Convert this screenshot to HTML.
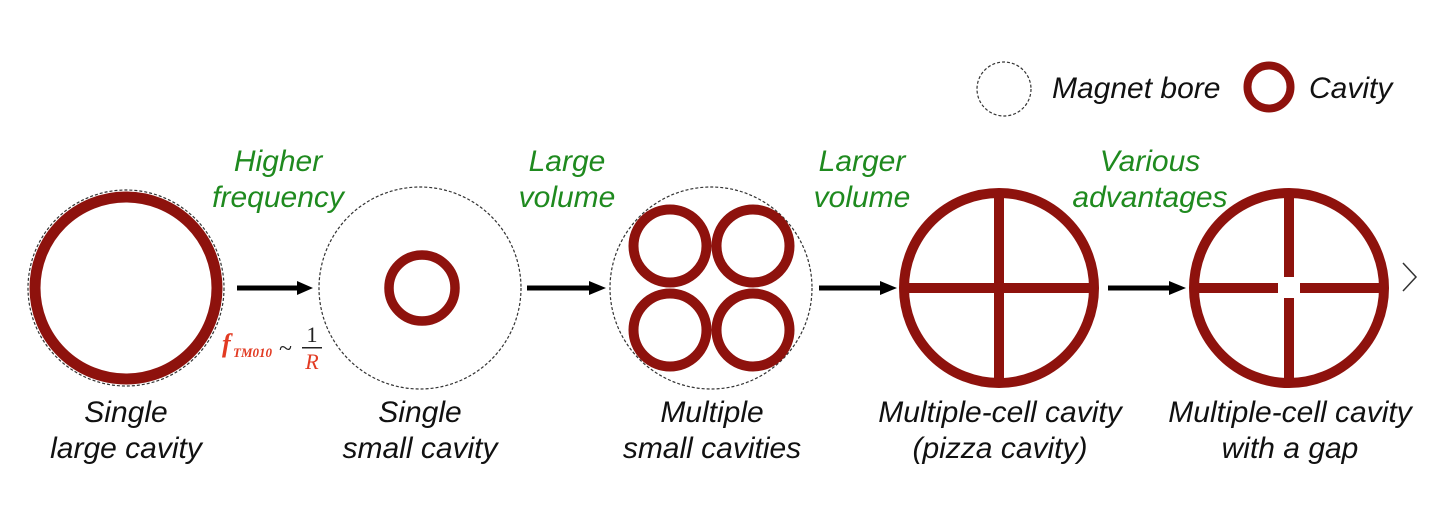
<!DOCTYPE html>
<html><head><meta charset="utf-8"><style>
html,body{margin:0;padding:0;background:#fff;}
svg{display:block;}
text{font-family:"Liberation Sans",Arial,sans-serif;font-style:italic;font-size:30px;}
.g{fill:#1f8a1f;}
.k{fill:#111;}
</style></head><body>
<svg width="1440" height="517" viewBox="0 0 1440 517" xmlns="http://www.w3.org/2000/svg">
<g fill="none" stroke="#333" stroke-width="1.2" stroke-dasharray="3,2">
<circle cx="1004" cy="89" r="27"/>
<circle cx="126" cy="288" r="98"/>
<circle cx="420" cy="288" r="101"/>
<circle cx="711" cy="288" r="101"/>
</g>
<g fill="none" stroke="#8e120d">
<circle cx="1269" cy="87" r="21.5" stroke-width="8"/>
<circle cx="126" cy="288" r="91" stroke-width="11"/>
<circle cx="422" cy="288" r="33" stroke-width="9.5"/>
<circle cx="670" cy="246" r="36.5" stroke-width="10"/>
<circle cx="753" cy="246" r="36.5" stroke-width="10"/>
<circle cx="670" cy="330" r="36.5" stroke-width="10"/>
<circle cx="753" cy="330" r="36.5" stroke-width="10"/>
<circle cx="999" cy="288" r="95" stroke-width="10"/>
<line x1="999" y1="190" x2="999" y2="386" stroke-width="10"/>
<line x1="901" y1="288" x2="1097" y2="288" stroke-width="10"/>
<circle cx="1289" cy="288" r="95" stroke-width="10"/>
<line x1="1289" y1="190" x2="1289" y2="277" stroke-width="10"/>
<line x1="1289" y1="298" x2="1289" y2="386" stroke-width="10"/>
<line x1="1191" y1="288" x2="1278" y2="288" stroke-width="10"/>
<line x1="1300" y1="288" x2="1387" y2="288" stroke-width="10"/>
</g>
<g fill="#000">
<rect x="237" y="285.5" width="62" height="5"/><polygon points="297,281 313,288 297,295"/>
<rect x="527" y="285.5" width="62" height="5"/><polygon points="589,281 606,288 589,295"/>
<rect x="819" y="285.5" width="62" height="5"/><polygon points="880,281 897,288 880,295"/>
<rect x="1108" y="285.5" width="62" height="5"/><polygon points="1169,281 1186,288 1169,295"/>
</g>
<polyline points="1403,263 1416,277 1403,291" fill="none" stroke="#333" stroke-width="1.5"/>
<text x="1052" y="98" class="k">Magnet bore</text>
<text x="1309" y="98" class="k">Cavity</text>
<g class="g" text-anchor="middle">
<text x="278" y="171">Higher</text><text x="278" y="207">frequency</text>
<text x="567" y="171">Large</text><text x="567" y="207">volume</text>
<text x="862" y="171">Larger</text><text x="862" y="207">volume</text>
<text x="1150" y="171">Various</text><text x="1150" y="207">advantages</text>
</g>
<g class="k" text-anchor="middle">
<text x="126" y="422">Single</text><text x="126" y="458">large cavity</text>
<text x="420" y="422">Single</text><text x="420" y="458">small cavity</text>
<text x="712" y="422">Multiple</text><text x="712" y="458">small cavities</text>
<text x="1000" y="422">Multiple-cell cavity</text><text x="1000" y="458">(pizza cavity)</text>
<text x="1290" y="422">Multiple-cell cavity</text><text x="1290" y="458">with a gap</text>
</g>
<text x="222" y="352" style="font-family:'Liberation Serif',serif;font-style:italic;font-size:26px;fill:#e23a22;font-weight:bold">f</text>
<text x="233" y="357" style="font-family:'Liberation Serif',serif;font-style:italic;font-size:13px;fill:#e23a22;font-weight:bold">TM010</text>
<text x="279" y="356" style="font-family:'Liberation Serif',serif;font-style:normal;font-size:24px;fill:#222">~</text>
<text x="312" y="342" text-anchor="middle" style="font-family:'Liberation Serif',serif;font-style:normal;font-size:22px;fill:#222">1</text>
<rect x="302" y="347" width="20" height="1.5" fill="#222"/>
<text x="312" y="369" text-anchor="middle" style="font-family:'Liberation Serif',serif;font-style:italic;font-size:22px;fill:#e23a22">R</text>
</svg>
</body></html>
